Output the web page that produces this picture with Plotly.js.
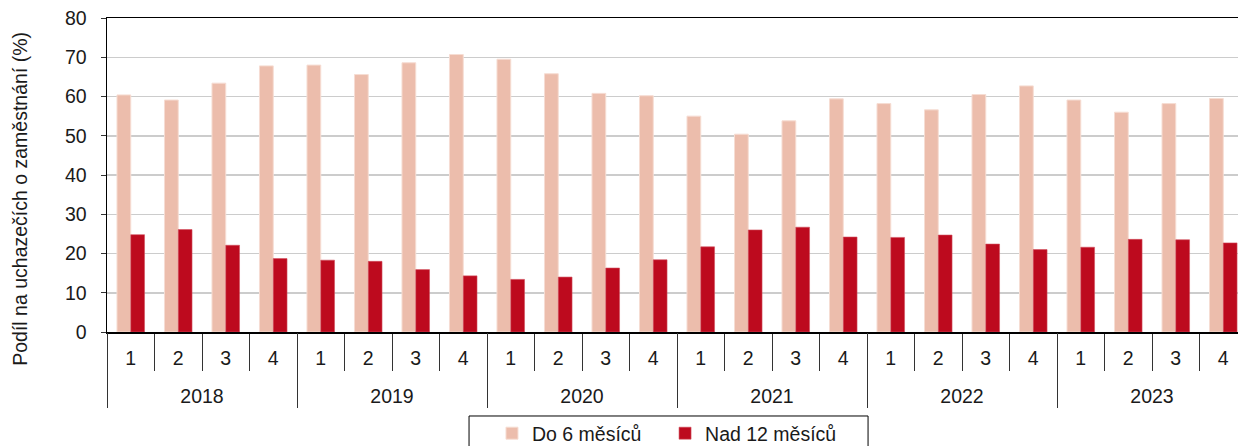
<!DOCTYPE html>
<html>
<head>
<meta charset="utf-8">
<script src="https://cdn.plot.ly/plotly-3.0.1.min.js"></script>
<style>html,body{margin:0;padding:0;background:#fff;}#chart{width:1238px;height:446px;}</style>
</head>
<body>
<div id="chart"></div>
<script>
const years = ['2018','2019','2020','2021','2022','2023'];
const quarters = ['1','2','3','4'];
const do6Mesicu = [60.4,59.1,63.4,67.8, 68.0,65.6,68.6,70.7, 69.5,65.8,60.8,60.2, 55.0,50.4,53.8,59.4, 58.2,56.6,60.5,62.7, 59.1,56.0,58.2,59.5];
const nad12Mesicu = [24.8,26.1,22.1,18.7, 18.3,18.0,15.9,14.3, 13.4,14.0,16.3,18.4, 21.7,26.0,26.7,24.2, 24.1,24.7,22.4,21.0, 21.6,23.6,23.5,22.7];
const seriesNames = ['Do 6 měsíců','Nad 12 měsíců'];
const yTitle = 'Podíl na uchazečích o zaměstnání (%)';

// category index positions derived from the year/quarter arrays
const xIdx = [], qLabels = [];
years.forEach((y, yi) => quarters.forEach((q, qi) => { xIdx.push(yi * quarters.length + qi); qLabels.push(q); }));
const yearCenters = years.map((y, yi) => yi * quarters.length + (quarters.length - 1) / 2);
const xRange = [-0.5, 23.31];

const fam = '"Liberation Sans", Arial, sans-serif';
const font = {family: fam, size: 19.5, color: '#1a1a1a'};

const data = [
  {type:'bar', name: seriesNames[0], x: xIdx, y: do6Mesicu, legend:'legend',
   marker:{color:'#ECBDAC', line:{color:'#F6DDD3', width:1}}, hoverinfo:'y'},
  {type:'bar', name: seriesNames[1], x: xIdx, y: nad12Mesicu, legend:'legend2',
   marker:{color:'#BD0A1E', line:{color:'#D2505E', width:0.6}}, hoverinfo:'y'},
  {type:'scatter', x: [], y: [], xaxis:'x2', yaxis:'y', showlegend:false, hoverinfo:'skip'}
];

const legendBase = {orientation:'h', xref:'container', yref:'container', xanchor:'left', y:0.0717, yanchor:'top',
                    borderwidth:0, font:font, bgcolor:'rgba(0,0,0,0)'};

const layout = {
  width:1238, height:446,
  margin:{l:107, r:0, t:18, b:114, autoexpand:false},
  paper_bgcolor:'#fff', plot_bgcolor:'#fff',
  font: font,
  barmode:'group', bargap:0.42, bargroupgap:0,
  showlegend:true,
  legend: Object.assign({}, legendBase, {x:0.3974}),
  legend2: Object.assign({}, legendBase, {x:0.5372}),
  shapes:[{type:'rect', xref:'paper', yref:'paper', x0:0.3201, x1:0.6729, y0:-0.2675, y1:-0.40,
           line:{color:'#000', width:1}, fillcolor:'rgba(0,0,0,0)', layer:'above'}],
  xaxis:{type:'linear', range:xRange, autorange:false, automargin:false,
         tickmode:'array', tickvals:xIdx, ticktext:qLabels, ticks:'',
         ticklabelstandoff:8,
         minor:{ticks:'outside', ticklen:37, tick0:-0.5, dtick:1, tickcolor:'#333', tickwidth:1, showgrid:false},
         showline:true, linecolor:'#000', linewidth:1.5, mirror:true,
         showgrid:false, zeroline:false, tickfont:font},
  xaxis2:{type:'linear', overlaying:'x', anchor:'y', side:'bottom', range:xRange, autorange:false, automargin:false,
         tickmode:'array', tickvals:yearCenters, ticktext:years, ticks:'',
         ticklabelstandoff:50,
         minor:{ticks:'outside', ticklen:75, tick0:-0.5, dtick:4, tickcolor:'#333', tickwidth:1, showgrid:false},
         showline:false, showgrid:false, zeroline:false, tickfont:font},
  yaxis:{range:[0,80], autorange:false, automargin:false, dtick:10, tick0:0,
         showline:true, linecolor:'#000', linewidth:1.5,
         ticks:'outside', ticklen:5, tickcolor:'#333',
         ticklabelstandoff:10,
         showgrid:true, gridcolor:'#CCCCCC', gridwidth:1.5, zeroline:false, tickfont:font},
  annotations:[{text:yTitle, xref:'paper', yref:'paper', x:-0.077, y:0.424,
                textangle:-90, showarrow:false, xanchor:'center', yanchor:'middle', font:font}]
};

Plotly.newPlot('chart', data, layout, {displayModeBar:false, staticPlot:true});
</script>
</body>
</html>
